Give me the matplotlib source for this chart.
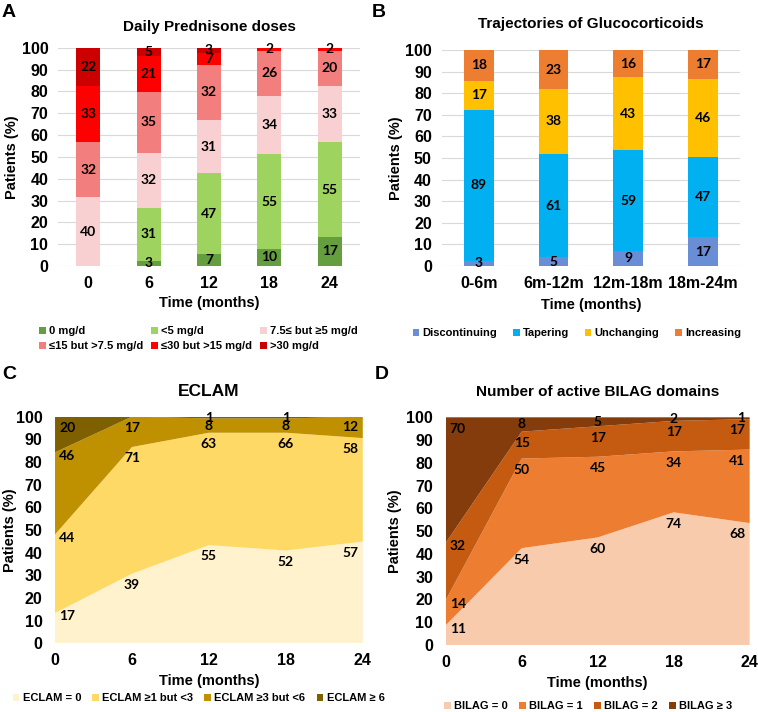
#%% Import packages

import numpy as np
import matplotlib
matplotlib.use('Agg')
import matplotlib.pyplot as plt
from matplotlib.patches import Patch

#%% Set matplotlib general parameters

plt.rcParams['font.family'] = ['Liberation Sans', 'DejaVu Sans']
plt.rcParams['font.weight'] = 'bold'
plt.rcParams['axes.titleweight'] = 'bold'
plt.rcParams['axes.labelweight'] = 'bold'
plt.rcParams['xtick.labelsize'] = 11.5
plt.rcParams['ytick.labelsize'] = 11.5

label_font = ['Lato', 'DejaVu Sans']  # stands in for Calibri on the data labels

#%% Data (number of patients, n = 127 at every time point)

# A - daily prednisone doses
months = ['0', '6', '12', '18', '24']
dose_names = ['0 mg/d', '<5 mg/d', '7.5\u2264 but \u22655 mg/d',
              '\u226415 but >7.5 mg/d', '\u226430 but >15 mg/d', '>30 mg/d']
dose_0 = [0, 3, 7, 10, 17]
dose_lt5 = [0, 31, 47, 55, 55]
dose_5_75 = [40, 32, 31, 34, 33]
dose_75_15 = [32, 35, 32, 26, 20]
dose_15_30 = [33, 21, 7, 2, 2]
dose_gt30 = [22, 5, 3, 0, 0]
dose_colors = ['#659E3E', '#9FD35F', '#F9D0D1', '#F27F7E', '#FF0000', '#CC0000']

# B - trajectories of glucocorticoids
periods = ['0-6m', '6m-12m', '12m-18m', '18m-24m']
traj_names = ['Discontinuing', 'Tapering', 'Unchanging', 'Increasing']
discontinuing = [3, 5, 9, 17]
tapering = [89, 61, 59, 47]
unchanging = [17, 38, 43, 46]
increasing = [18, 23, 16, 17]
traj_colors = ['#6A8ED6', '#00B0F0', '#FFC000', '#ED7D31']

# C - ECLAM
time_months = [0, 6, 12, 18, 24]
eclam_names = ['ECLAM = 0', 'ECLAM \u22651 but <3', 'ECLAM \u22653 but <6', 'ECLAM \u2265 6']
eclam_0 = [17, 39, 55, 52, 57]
eclam_1_3 = [44, 71, 63, 66, 58]
eclam_3_6 = [46, 17, 8, 8, 12]
eclam_6 = [20, 0, 1, 1, 0]
eclam_colors = ['#FFF2CC', '#FFD966', '#BF9000', '#7F6000']

# D - number of active BILAG domains
bilag_names = ['BILAG = 0', 'BILAG = 1', 'BILAG = 2', 'BILAG \u2265 3']
bilag_0 = [11, 54, 60, 74, 68]
bilag_1 = [14, 50, 45, 34, 41]
bilag_2 = [32, 15, 17, 17, 17]
bilag_3 = [70, 8, 5, 2, 1]
bilag_colors = ['#F8CBAD', '#ED7D31', '#C55A11', '#843C0C']

#%% Helpers

def to_percent(series):
    counts = np.array(series, dtype=float)
    return counts / counts.sum(axis=0) * 100

def style_axes(ax, ylab_x, xlab_y):
    for s in ax.spines.values():
        s.set_visible(False)
    ax.tick_params(length=0)
    ax.set_ylim(0, 100)
    ax.set_yticks(np.arange(0, 101, 10))
    ax.set_ylabel('Patients (%)', fontsize=10.5)
    ax.yaxis.set_label_coords(ylab_x, 0.5)
    ax.yaxis.label.set_verticalalignment('center')
    ax.set_xlabel('Time (months)', fontsize=10.5)
    ax.xaxis.set_label_coords(0.5, xlab_y)
    ax.xaxis.label.set_verticalalignment('center')

def stacked_bars(ax, labels, series, colors, ylab_x, xlab_y):
    counts = np.array(series, dtype=float)
    pct = to_percent(series)
    x = np.arange(len(labels))
    ax.grid(axis='y', color='#D9D9D9', linewidth=0.8, zorder=0)
    ax.set_axisbelow(True)
    bottom = np.zeros(len(labels))
    for n, p, c in zip(counts, pct, colors):
        ax.bar(x, p, width=0.4, bottom=bottom, color=c, zorder=2)
        for xi, ni, pi, bi in zip(x, n, p, bottom):
            if ni > 0:
                ax.text(xi, bi + pi / 2, '%d' % ni, ha='center', va='center',
                        fontsize=10, family=label_font, fontweight='bold', zorder=3)
        bottom += p
    ax.set_xticks(x)
    ax.set_xticklabels(labels)
    ax.set_xlim(-0.5, len(labels) - 0.5)
    style_axes(ax, ylab_x, xlab_y)
    ax.tick_params(axis='x', pad=7)
    ax.tick_params(axis='y', pad=7)

def stacked_area(ax, x, series, colors, ylab_x, xlab_y):
    counts = np.array(series, dtype=float)
    pct = to_percent(series)
    ax.stackplot(x, pct, colors=colors, linewidth=0)
    tops = np.cumsum(pct, axis=0)
    for n, p, t in zip(counts, pct, tops):
        for i in range(len(x)):
            if n[i] == 0:
                continue
            off = min(5, p[i] / 2)
            if i == 0 and t[i] < 99.9:
                off = 1.5
            if i == 0:
                ha, dx = 'left', 3
            elif i == len(x) - 1:
                ha, dx = 'right', -3
            else:
                ha, dx = 'center', 0
            ax.annotate('%d' % n[i], (x[i], t[i] - off), xytext=(dx, 0),
                        textcoords='offset points', ha=ha, va='center',
                        fontsize=10, family=label_font, fontweight='bold')
    ax.set_xlim(x[0], x[-1])
    ax.set_xticks(x)
    style_axes(ax, ylab_x, xlab_y)
    ax.tick_params(axis='x', pad=7)
    ax.tick_params(axis='y', pad=9)

def add_legend(fig, names, colors, ncol, x, y, order=None, colsp=1.5):
    handles = [Patch(facecolor=c, edgecolor='none') for c in colors]
    if order is not None:
        handles = [handles[k] for k in order]
        names = [names[k] for k in order]
    fig.legend(handles, names, loc='center', bbox_to_anchor=(x, y), ncol=ncol,
               frameon=False, fontsize=8, handlelength=0.6, handleheight=0.6,
               handletextpad=0.3, columnspacing=colsp, borderpad=0, labelspacing=0.45)

#%% Plot

fig = plt.figure(figsize=(7.58, 7.12), dpi=100)

# A
axA = fig.add_axes([0.0765, 0.6264, 0.3984, 0.3066])
stacked_bars(axA, months, [dose_0, dose_lt5, dose_5_75, dose_75_15, dose_15_30, dose_gt30],
             dose_colors, -0.152, -0.17)
axA.set_title('Daily Prednisone doses', fontsize=11, pad=12)
add_legend(fig, dose_names, dose_colors, 3, 0.262, 0.524, order=[0, 3, 1, 4, 2, 5], colsp=0.7)

# B
axB = fig.add_axes([0.5825, 0.6264, 0.3938, 0.3034])
stacked_bars(axB, periods, [discontinuing, tapering, unchanging, increasing],
             traj_colors, -0.152, -0.18)
axB.set_title('Trajectories of Glucocorticoids', fontsize=11, pad=15.5)
add_legend(fig, traj_names, traj_colors, 4, 0.761, 0.532, colsp=1.4)

# C
axC = fig.add_axes([0.0726, 0.0965, 0.406, 0.3183])
stacked_area(axC, time_months, [eclam_0, eclam_1_3, eclam_3_6, eclam_6],
             eclam_colors, -0.146, -0.165)
axC.set_title('ECLAM', fontsize=12.5, pad=15)
add_legend(fig, eclam_names, eclam_colors, 4, 0.262, 0.0197, colsp=1.0)

# D
axD = fig.add_axes([0.588, 0.0941, 0.401, 0.3198])
stacked_area(axD, time_months, [bilag_0, bilag_1, bilag_2, bilag_3],
             bilag_colors, -0.167, -0.165)
axD.set_title('Number of active BILAG domains', fontsize=11, pad=15)
add_legend(fig, bilag_names, bilag_colors, 4, 0.776, 0.0084, colsp=1.0)

# panel letters
for letter, px, py in [('A', 2, 4), ('B', 372, 4), ('C', 2, 366), ('D', 375, 366)]:
    fig.text(px / 758, 1 - py / 712, letter, fontsize=14, fontweight='bold', va='top', ha='left')

plt.savefig('out.png', dpi=100)
